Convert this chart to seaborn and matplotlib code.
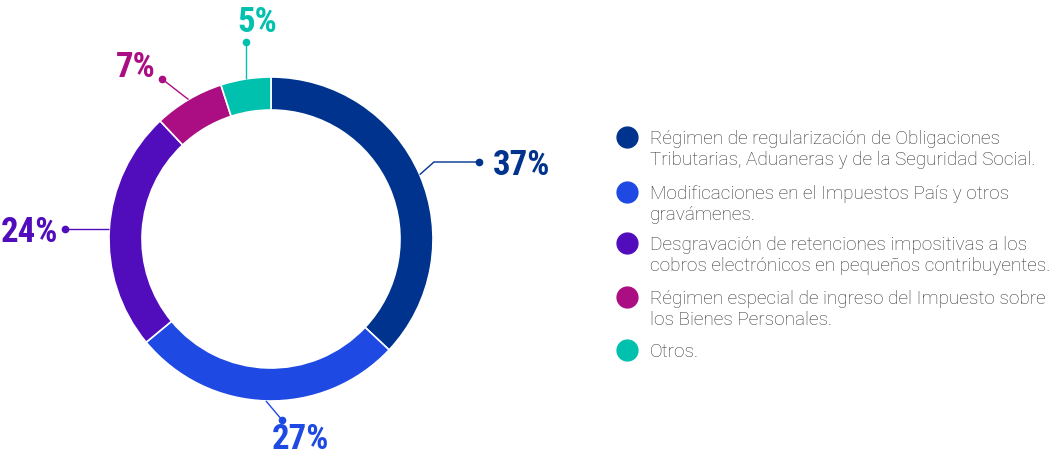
import matplotlib
matplotlib.use("Agg")
import matplotlib.pyplot as plt
import seaborn as sns
import numpy as np
from matplotlib import font_manager

# data
categories = [
    "Régimen de regularización de Obligaciones\nTributarias, Aduaneras y de la Seguridad Social.",
    "Modificaciones en el Impuestos País y otros\ngravámenes.",
    "Desgravación de retenciones impositivas a los\ncobros electrónicos en pequeños contribuyentes.",
    "Régimen especial de ingreso del Impuesto sobre\nlos Bienes Personales.",
    "Otros.",
]
shares = [37, 27, 24, 7, 5]
share_labels = ["37%", "27%", "24%", "7%", "5%"]
colors = ["#00338D", "#1E49E2", "#510DBC", "#AB0D82", "#00C0AE"]

# callout layout (pixel offsets from the donut centre, y up)
# None in a waypoint means "keep the coordinate of the previous point"
callout_paths = [
    [(163, 77), (208, 77)],
    [(11, -181)],
    [(-206, None)],
    [(-109, 160)],
    [(None, 197)],
]
label_pos = [(222, 77), (29, -197), (-213, None), (-135, 175), (-14, 220)]
label_ha = ["left", "center", "right", "center", "center"]

W, H = 1063, 456
cx, cy, R = 271, H - 240, 162

sns.set_theme(style="white")

# pick a condensed face for the big percentages if one is installed
fonts = font_manager.fontManager.ttflist
names = {f.name for f in fonts}
narrow, stretch, pct_size = "DejaVu Sans", "normal", 21
for cand in ["Roboto Condensed", "Liberation Sans Narrow", "Open Sans Condensed",
             "Noto Sans Condensed", "DejaVu Sans Condensed", "Lato Condensed"]:
    if cand in names:
        narrow, stretch, pct_size = cand, "normal", 25
        break
else:
    for f in fonts:
        if "ondensed" in str(f.stretch) and f.name in ("Noto Sans", "Open Sans", "DejaVu Sans", "Roboto"):
            narrow, stretch, pct_size = f.name, "condensed", 25
            break

body = "Roboto" if "Roboto" in names else "DejaVu Sans"
plt.rcParams["font.family"] = [body, "DejaVu Sans"]

fig = plt.figure(figsize=(W / 100, H / 100), dpi=100)
ax = fig.add_axes([0, 0, 1, 1])

wedges, _ = ax.pie(
    shares, colors=colors, startangle=90, counterclock=False,
    radius=R, center=(cx, cy),
    wedgeprops=dict(width=33, edgecolor="white", linewidth=1.2),
)
ax.set_xlim(0, W)
ax.set_ylim(0, H)
ax.set_aspect("equal")
ax.axis("off")

# cap height of the percentage font, in pixels, to centre digits visually
cap_px = 0.71 * pct_size * 100 / 72

# callouts with leader lines
for w, lab, path, lpos, ha, col in zip(wedges, share_labels, callout_paths,
                                       label_pos, label_ha, colors):
    mid = np.deg2rad((w.theta1 + w.theta2) / 2)
    x0, y0 = R * np.cos(mid), R * np.sin(mid)
    xs, ys = [x0], [y0]
    for px, py in path:
        xs.append(xs[-1] if px is None else px)
        ys.append(ys[-1] if py is None else py)
    xs = np.array(xs) + cx
    ys = np.array(ys) + cy
    ax.plot(xs, ys, color=col, lw=1.0, solid_capstyle="butt")
    ax.plot(xs[-1], ys[-1], "o", color=col, ms=4.5)
    lx = cx + lpos[0]
    ly = ys[-1] if lpos[1] is None else cy + lpos[1]
    ax.text(lx, ly - cap_px / 2, lab, color=col, ha=ha, va="baseline",
            fontsize=pct_size, fontweight="bold", fontstretch=stretch,
            family=[narrow, "DejaVu Sans"])

# legend drawn as marker + wrapped text
legend_rows = [138, 193, 244, 298, 351]
for cat, col, row in zip(categories, colors, legend_rows):
    ax.plot(627, H - row, "o", color=col, ms=15)
    ax.text(650, H - row + 8, cat, color="#333333", fontsize=13.7,
            fontweight="light", ha="left", va="top", linespacing=1.18)

fig.savefig("out.png", dpi=100)
